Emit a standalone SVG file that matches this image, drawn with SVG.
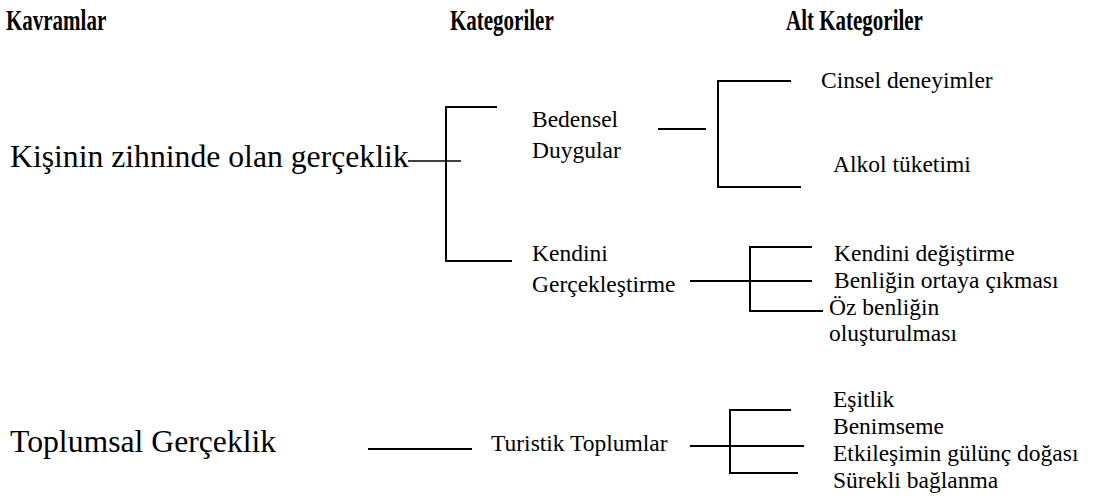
<svg xmlns="http://www.w3.org/2000/svg" width="1093" height="500" viewBox="0 0 1093 500">
<style>
  text { font-family: 'Liberation Serif', 'DejaVu Serif', serif; fill: #000; }
  .hdr { font-weight: bold; font-size: 30px; }
  .big { font-size: 31.7px; }
  .txt { font-size: 23.5px; }
  .ln { stroke: #000; stroke-width: 2; fill: none; stroke-linecap: butt; }
  .thin { stroke: #000; stroke-width: 1.4; fill: none; }
</style>
<rect width="1093" height="500" fill="#fff"/>
<g id="headers">
  <text class="hdr" font-family="Liberation Serif, serif" transform="translate(6 30) scale(0.7 1)">Kavramlar</text>
  <text class="hdr" font-family="Liberation Serif, serif" transform="translate(450 30) scale(0.7 1)">Kategoriler</text>
  <text class="hdr" font-family="Liberation Serif, serif" transform="translate(786 30) scale(0.7 1)">Alt Kategoriler</text>
</g>
<g id="node-kisinin"><text class="big" font-family="Liberation Serif, serif" x="10" y="167">Kişinin zihninde olan gerçeklik</text></g>
<g id="node-toplumsal"><text class="big" font-family="Liberation Serif, serif" x="10" y="452">Toplumsal Gerçeklik</text></g>
<g id="node-bedensel"><text class="txt" font-family="Liberation Serif, serif" x="532" y="127">Bedensel</text><text class="txt" font-family="Liberation Serif, serif" x="532" y="158">Duygular</text></g>
<g id="node-kendini"><text class="txt" font-family="Liberation Serif, serif" x="532" y="261">Kendini</text><text class="txt" font-family="Liberation Serif, serif" x="532" y="292">Gerçekleştirme</text></g>
<g id="node-turistik"><text class="txt" font-family="Liberation Serif, serif" x="491" y="451">Turistik Toplumlar</text></g>
<g id="node-cinsel"><text class="txt" font-family="Liberation Serif, serif" x="821" y="88">Cinsel deneyimler</text></g>
<g id="node-alkol"><text class="txt" font-family="Liberation Serif, serif" x="833" y="172">Alkol tüketimi</text></g>
<g id="node-degistirme"><text class="txt" font-family="Liberation Serif, serif" x="834" y="261">Kendini değiştirme</text></g>
<g id="node-benligin"><text class="txt" font-family="Liberation Serif, serif" x="834" y="288">Benliğin ortaya çıkması</text></g>
<g id="node-oz"><text class="txt" font-family="Liberation Serif, serif" x="829" y="315">Öz benliğin</text><text class="txt" font-family="Liberation Serif, serif" x="829" y="341">oluşturulması</text></g>
<g id="node-esitlik"><text class="txt" font-family="Liberation Serif, serif" x="833" y="407">Eşitlik</text></g>
<g id="node-benimseme"><text class="txt" font-family="Liberation Serif, serif" x="833" y="434">Benimseme</text></g>
<g id="node-etkilesim"><text class="txt" font-family="Liberation Serif, serif" x="833" y="461">Etkileşimin gülünç doğası</text></g>
<g id="node-surekli"><text class="txt" font-family="Liberation Serif, serif" x="833" y="488">Sürekli bağlanma</text></g>
<g id="connectors">
  <line class="thin" x1="408" y1="161" x2="461" y2="161"/>
  <path class="ln" d="M497 107 H446 V261 H512"/>
  <line class="ln" x1="658" y1="129" x2="706" y2="129"/>
  <path class="ln" d="M791 81 H718 V187 H801"/>
  <line class="ln" x1="690" y1="281" x2="812" y2="281"/>
  <path class="ln" d="M812 247 H750 V311 H823"/>
  <line class="ln" x1="368" y1="449" x2="472" y2="449"/>
  <line class="ln" x1="690" y1="446" x2="804" y2="446"/>
  <path class="ln" d="M791 410 H730 V473 H798"/>
</g>
</svg>
